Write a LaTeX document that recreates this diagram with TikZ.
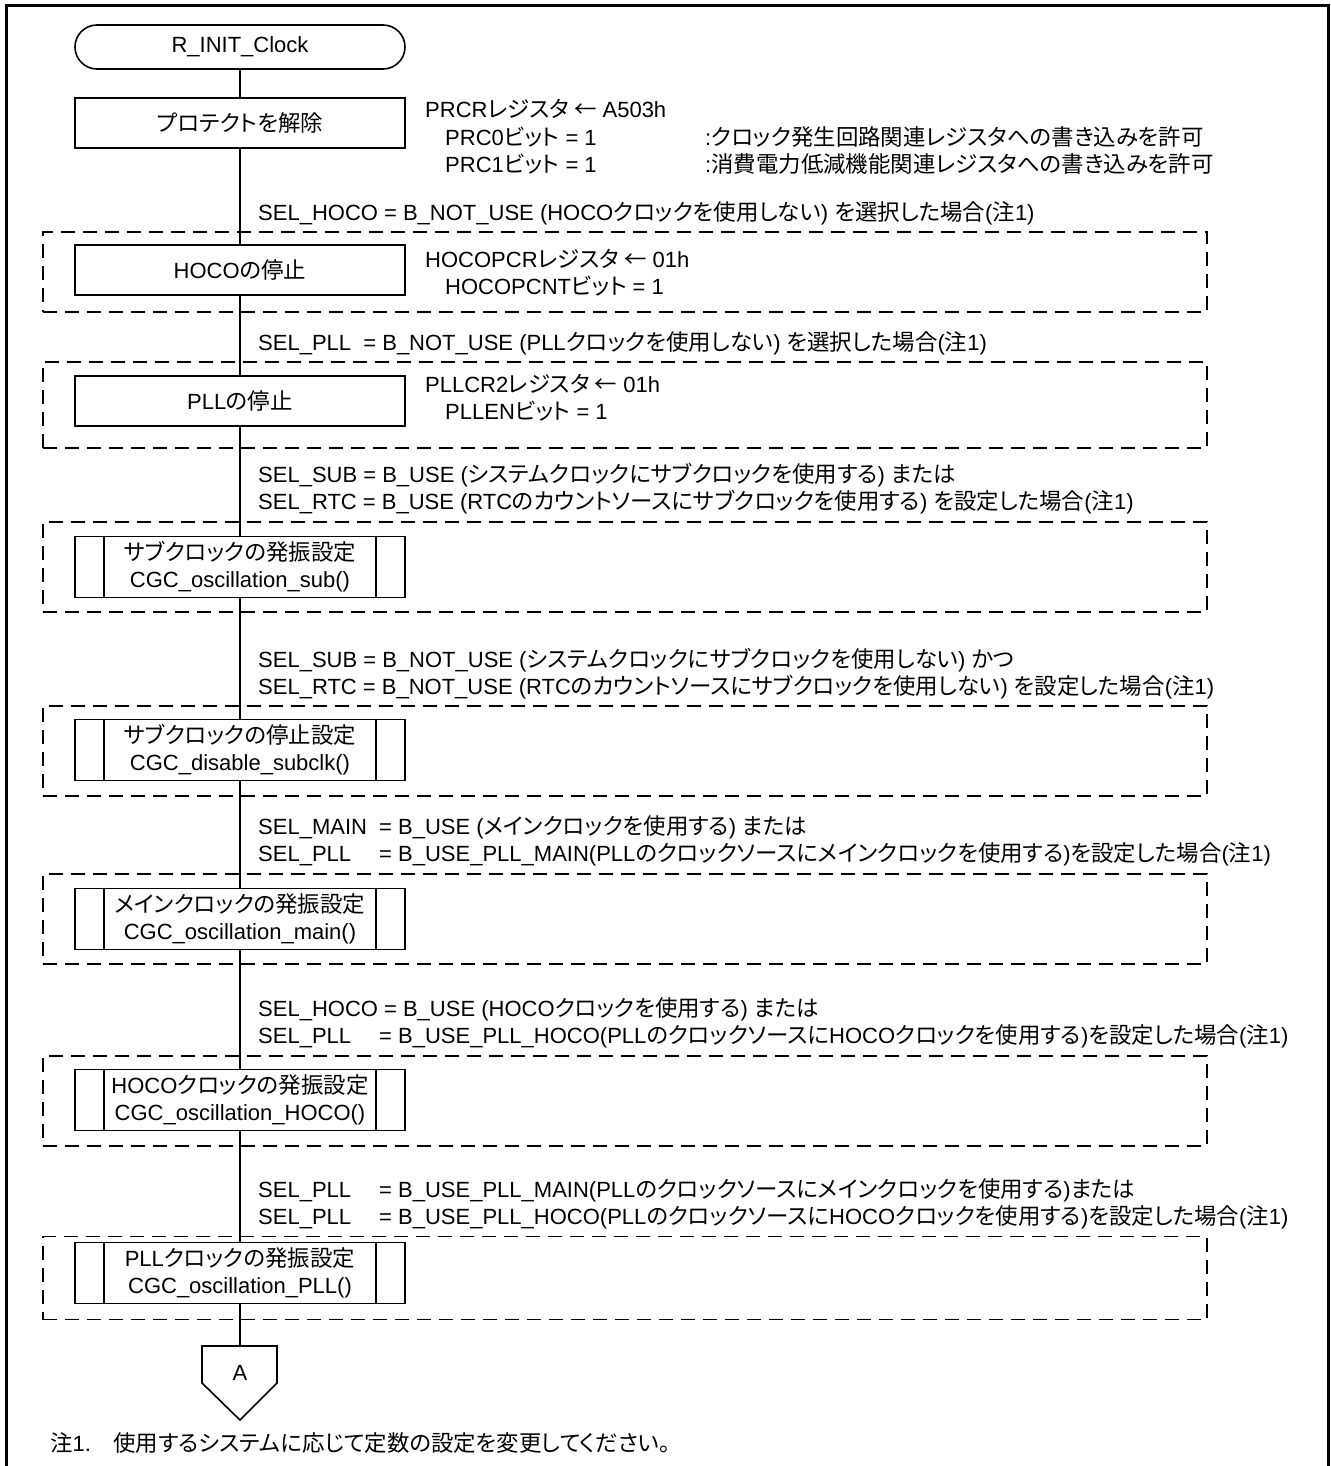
\documentclass[tikz,border=0pt]{standalone}
\usepackage{fontspec}
\usepackage{calc}
\setmainfont{Liberation Sans}
\newfontfamily\jfont[Scale=1.02, RawFeature=+palt]{Noto Sans CJK JP}
\newcommand\J[1]{{\jfont #1}}
\newcommand\PB[1]{\makebox[\widthof{SEL\_MAIN\ \ }][l]{#1}}
\usetikzlibrary{shapes.misc}
\begin{document}
\begin{tikzpicture}[x=1pt,y=-1pt,
  font=\fontsize{22}{27}\selectfont,
  ln/.style={line width=1.6pt},
  proc/.style={draw, line width=1.6pt, minimum width=330pt, minimum height=50pt, inner sep=0pt},
  subr/.style={proc, minimum height=61pt, align=center},
  term/.style={draw, line width=1.6pt, rounded rectangle, minimum width=330pt, minimum height=44pt, inner sep=0pt},
  grp/.style={draw, line width=1.6pt, dash pattern=on 14pt off 8pt, minimum width=1164pt, inner sep=0pt},
  txt/.style={anchor=west, inner sep=0pt, text height=15pt, text depth=4pt}]
\useasboundingbox (0,0) rectangle (1330,1466);
\draw[line width=3pt] (6,1475) -- (6,6) -- (1328,6) -- (1328,1475);

% groups
\node[grp, minimum height=80pt] (g1) at (625,272) {};
\node[grp, minimum height=86pt] (g2) at (625,405) {};
\node[grp, minimum height=90pt] (g3) at (625,567) {};
\node[grp, minimum height=90pt] (g4) at (625,751) {};
\node[grp, minimum height=90pt] (g5) at (625,919) {};
\node[grp, minimum height=90pt] (g6) at (625,1101) {};
\node[grp, minimum height=83pt] (g7) at (625,1278) {};

% flow nodes
\node[term] (t) at (240,47) {R\_INIT\_Clock};
\node[proc, fill=white] (p1) at (240,123) {\J{プロテクトを解除}};
\node[proc, fill=white] (p2) at (240,270) {HOCO\J{の停止}};
\node[proc, fill=white] (p3) at (240,401) {PLL\J{の停止}};
\node[subr, fill=white] (s1) at (240,567) {\J{サブクロックの発振設定}\\CGC\_oscillation\_sub()};
\node[subr, fill=white] (s2) at (240,750) {\J{サブクロックの停止設定}\\CGC\_disable\_subclk()};
\node[subr, fill=white] (s3) at (240,919) {\J{メインクロックの発振設定}\\CGC\_oscillation\_main()};
\node[subr, fill=white] (s4) at (240,1100) {HOCO\J{クロックの発振設定}\\CGC\_oscillation\_HOCO()};
\node[subr, fill=white] (s5) at (240,1273) {PLL\J{クロックの発振設定}\\CGC\_oscillation\_PLL()};
\foreach \s in {s1,s2,s3,s4,s5}{
  \draw[ln] ([xshift=30pt]\s.north west) -- ([xshift=30pt]\s.south west);
  \draw[ln] ([xshift=-30pt]\s.north east) -- ([xshift=-30pt]\s.south east);
}
\coordinate (atop) at (240,1346);
\draw[ln] (202,1346) -- (277,1346) -- (277,1383) -- (240,1420) -- (202,1383) -- cycle;
\node (a) at (240,1373) {A};

% connectors
\draw[ln] (t) -- (p1);
\draw[ln] (p1) -- (p2);
\draw[ln] (p2) -- (p3);
\draw[ln] (p3) -- (s1);
\draw[ln] (s1) -- (s2);
\draw[ln] (s2) -- (s3);
\draw[ln] (s3) -- (s4);
\draw[ln] (s4) -- (s5);
\draw[ln] (s5) -- (atop);

% register texts
\node[txt] (r1a) at (425,112) {PRCR\J{レジスタ ←} A503h};
\node[txt] (r1b) at (445,140) {PRC0\J{ビット} = 1};
\node[txt] (r1c) at (705,140) {:\J{クロック発生回路関連レジスタへの書き込みを許可}};
\node[txt] (r1d) at (445,167) {PRC1\J{ビット} = 1};
\node[txt] (r1e) at (705,167) {:\J{消費電力低減機能関連レジスタへの書き込みを許可}};
\node[txt] (r2a) at (425,262) {HOCOPCR\J{レジスタ ←} 01h};
\node[txt] (r2b) at (445,289) {HOCOPCNT\J{ビット} = 1};
\node[txt] (r3a) at (425,387) {PLLCR2\J{レジスタ ←} 01h};
\node[txt] (r3b) at (445,414) {PLLEN\J{ビット} = 1};

% condition texts
\node[txt] (c1) at (258,215) {SEL\_HOCO = B\_NOT\_USE (HOCO\J{クロックを使用しない}) \J{を選択した場合}(\J{注}1)};
\node[txt] (c2) at (258,345) {SEL\_PLL\ \ = B\_NOT\_USE (PLL\J{クロックを使用しない}) \J{を選択した場合}(\J{注}1)};
\node[txt] (c3a) at (258,477) {SEL\_SUB = B\_USE (\J{システムクロックにサブクロックを使用する}) \J{または}};
\node[txt] (c3b) at (258,504) {SEL\_RTC = B\_USE (RTC\J{のカウントソースにサブクロックを使用する}) \J{を設定した場合}(\J{注}1)};
\node[txt] (c4a) at (258,662) {SEL\_SUB = B\_NOT\_USE (\J{システムクロックにサブクロックを使用しない}) \J{かつ}};
\node[txt] (c4b) at (258,689) {SEL\_RTC = B\_NOT\_USE (RTC\J{のカウントソースにサブクロックを使用しない}) \J{を設定した場合}(\J{注}1)};
\node[txt] (c5a) at (258,829) {\PB{SEL\_MAIN}= B\_USE (\J{メインクロックを使用する}) \J{または}};
\node[txt] (c5b) at (258,856) {\PB{SEL\_PLL}= B\_USE\_PLL\_MAIN(PLL\J{のクロックソースにメインクロックを使用する})\J{を設定した場合}(\J{注}1)};
\node[txt] (c6a) at (258,1011) {SEL\_HOCO = B\_USE (HOCO\J{クロックを使用する}) \J{または}};
\node[txt] (c6b) at (258,1038) {\PB{SEL\_PLL}= B\_USE\_PLL\_HOCO(PLL\J{のクロックソースに}HOCO\J{クロックを使用する})\J{を設定した場合}(\J{注}1)};
\node[txt] (c7a) at (258,1192) {\PB{SEL\_PLL}= B\_USE\_PLL\_MAIN(PLL\J{のクロックソースにメインクロックを使用する})\J{または}};
\node[txt] (c7b) at (258,1219) {\PB{SEL\_PLL}= B\_USE\_PLL\_HOCO(PLL\J{のクロックソースに}HOCO\J{クロックを使用する})\J{を設定した場合}(\J{注}1)};

\node[txt] (note) at (50,1446) {\J{注}1.\J{　使用するシステムに応じて定数の設定を変更してください。}};
\end{tikzpicture}
\end{document}
